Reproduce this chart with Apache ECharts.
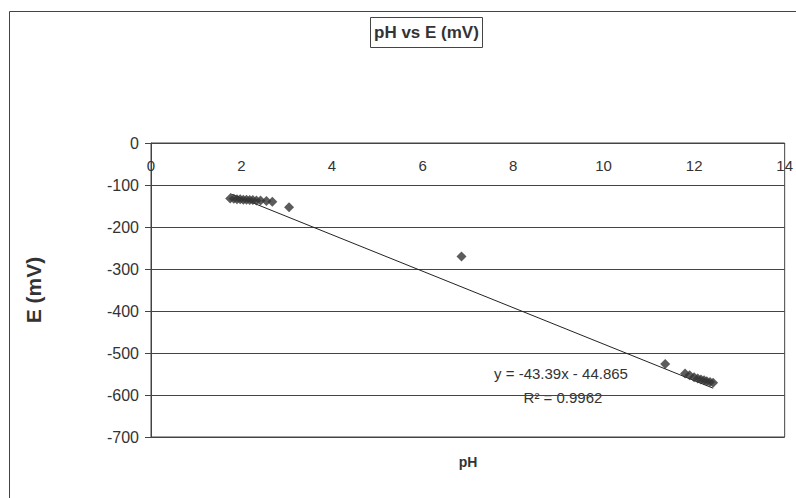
<!DOCTYPE html>
<html>
<head>
<meta charset="utf-8">
<script src="https://cdn.jsdelivr.net/npm/echarts@6/dist/echarts.min.js"></script>
<style>
html,body{margin:0;padding:0;background:#fff;}
#chart{width:796px;height:498px;}
</style>
</head>
<body>
<div id="chart"></div>
<script>
// pH values of measured points
const phValues = [1.75, 1.83, 1.9, 1.97, 2.04, 2.11, 2.18, 2.25, 2.33, 2.42, 2.55, 2.68, 3.05,
                  6.86,
                  11.36, 11.8, 11.9, 12.0, 12.08, 12.15, 12.22, 12.28, 12.35, 12.42];
// Potential values (mV)
const eValues = [-132, -133, -134, -134, -135, -135, -136, -136, -137, -137, -138, -140, -153,
                 -270,
                 -526, -549, -553, -558, -561, -563, -565, -567, -569, -571];
// Linear trendline end points (from y = -43.39x - 44.865)
const trendX = [1.75, 12.42];
const trendY = [-120.8, -583.8];
const xTicks = [0, 2, 4, 6, 8, 10, 12, 14];
const yTicks = [0, -100, -200, -300, -400, -500, -600, -700];
const titleText = 'pH vs E (mV)';
const xTitle = 'pH';
const yTitle = 'E (mV)';
const eqText = 'y = -43.39x - 44.865';
const r2Text = 'R² = 0.9962';

const font = '"Liberation Sans", Arial, sans-serif';
const ink = '#333';
const lineCol = '#444';

const chart = echarts.init(document.getElementById('chart'), null, {renderer: 'svg'});
chart.setOption({
  backgroundColor: '#fff',
  animation: false,
  title: {
    text: titleText,
    left: 370, top: 17,
    padding: [7, 4, 7, 4],
    borderColor: lineCol, borderWidth: 1,
    textStyle: {fontFamily: font, fontSize: 17, fontWeight: 'bold', color: ink}
  },
  grid: {
    left: 151, right: 6, top: 143, bottom: 61,
    show: true, borderColor: lineCol, borderWidth: 1, backgroundColor: 'transparent'
  },
  xAxis: {
    type: 'value', position: 'top', min: xTicks[0], max: xTicks[xTicks.length - 1], interval: 2,
    axisLine: {show: true, onZero: false, lineStyle: {color: lineCol}},
    axisTick: {show: false},
    splitLine: {show: false},
    axisLabel: {inside: true, margin: 15, fontFamily: font, fontSize: 15, color: ink, showMaxLabel: true}
  },
  yAxis: {
    type: 'value', min: yTicks[yTicks.length - 1], max: yTicks[0], interval: 100,
    axisLine: {show: true, onZero: false, lineStyle: {color: lineCol}},
    axisTick: {show: true, inside: false, length: 6, lineStyle: {color: lineCol}},
    splitLine: {show: true, lineStyle: {color: lineCol, width: 1}},
    axisLabel: {margin: 12, fontFamily: font, fontSize: 16, color: ink}
  },
  graphic: [
    {type: 'rect', shape: {x: 9.5, y: 11.5, width: 900, height: 600},
     style: {fill: 'none', stroke: lineCol, lineWidth: 1}, silent: true, z: -1},
    {type: 'text', x: 33, y: 290, rotation: Math.PI / 2,
     style: {text: yTitle, font: 'bold 21px ' + font, fill: ink, textAlign: 'center', textVerticalAlign: 'middle'}},
    {type: 'text', x: 468, y: 462,
     style: {text: xTitle, font: 'bold 14px ' + font, fill: ink, textAlign: 'center', textVerticalAlign: 'middle'}},
    {type: 'text', x: 561, y: 373,
     style: {text: eqText, font: '15px ' + font, fill: ink, textAlign: 'center', textVerticalAlign: 'middle'}},
    {type: 'text', x: 563, y: 397,
     style: {text: r2Text, font: '15px ' + font, fill: ink, textAlign: 'center', textVerticalAlign: 'middle'}}
  ],
  series: [
    {
      type: 'line',
      data: trendX.map((x, i) => [x, trendY[i]]),
      symbol: 'none',
      lineStyle: {color: '#222', width: 1},
      z: 1
    },
    {
      type: 'scatter',
      data: phValues.map((x, i) => [x, eValues[i]]),
      symbol: 'diamond',
      symbolSize: 10,
      itemStyle: {color: '#333'},
      z: 2
    }
  ]
});
</script>
</body>
</html>
